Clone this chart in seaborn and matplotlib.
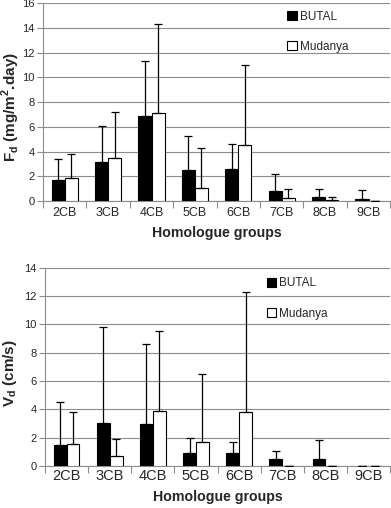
import numpy as np
import pandas as pd
import matplotlib
matplotlib.use("Agg")
import matplotlib.pyplot as plt
import seaborn as sns
from matplotlib.patches import Patch

# --- data ---
groups = ["2CB", "3CB", "4CB", "5CB", "6CB", "7CB", "8CB", "9CB"]
sites = ["BUTAL", "Mudanya"]

fd_butal = [1.7, 3.2, 6.9, 2.5, 2.6, 0.8, 0.35, 0.2]
fd_butal_sd = [1.7, 2.9, 4.4, 2.8, 2.0, 1.4, 0.65, 0.7]
fd_mudanya = [1.9, 3.5, 7.1, 1.1, 4.5, 0.25, 0.08, 0.02]
fd_mudanya_sd = [1.9, 3.7, 7.2, 3.2, 6.5, 0.75, 0.22, 0.03]

vd_butal = [1.5, 3.05, 2.95, 0.9, 0.9, 0.45, 0.45, 0.0]
vd_butal_sd = [3.0, 6.75, 5.65, 1.1, 0.8, 0.6, 1.35, 0.0]
vd_mudanya = [1.55, 0.7, 3.9, 1.7, 3.8, 0.0, 0.0, 0.0]
vd_mudanya_sd = [2.25, 1.2, 5.6, 4.8, 8.5, 0.0, 0.0, 0.0]


def make_df(butal, butal_sd, mud, mud_sd):
    return pd.DataFrame({
        "group": groups * 2,
        "site": [sites[0]] * len(groups) + [sites[1]] * len(groups),
        "value": butal + mud,
        "sd": butal_sd + mud_sd,
    })


sns.set_theme(style="white")
plt.rcParams["font.family"] = ["Liberation Sans", "DejaVu Sans"]

fig = plt.figure(figsize=(3.91, 5.08), dpi=100)
ax_top = fig.add_axes([0.110, 0.604, 0.888, 0.390])
ax_bot = fig.add_axes([0.115, 0.083, 0.883, 0.390])

grid_col = "#8c8c8c"


def draw_panel(ax, df, ymax, ylabel, ylabel_xy, legend_xy, xtick_size, xtick_pad):
    sns.barplot(data=df, x="group", y="value", hue="site", order=groups,
                hue_order=sites, palette=["black", "white"], edgecolor="black",
                linewidth=0.8, width=0.6, errorbar=None, ax=ax, zorder=3,
                legend=False)
    # upper-only error bars
    for cont, site in zip(ax.containers, sites):
        sub = df[df["site"] == site].set_index("group").loc[groups]
        xs = [p.get_x() + p.get_width() / 2 for p in cont.patches]
        ax.errorbar(xs, sub["value"], yerr=[np.zeros(len(xs)), sub["sd"]],
                    fmt="none", ecolor="black", elinewidth=0.9, capsize=3,
                    capthick=0.9, zorder=4)

    ax.set_ylim(0, ymax)
    ax.set_xlim(-0.5, len(groups) - 0.5)
    ax.set_yticks(np.arange(0, ymax + 1, 2))
    ax.yaxis.grid(True, color=grid_col, linewidth=0.8, zorder=0)
    ax.set_axisbelow(True)
    for s in ["top", "right"]:
        ax.spines[s].set_visible(False)
    ax.spines["left"].set_color(grid_col)
    ax.spines["bottom"].set_color(grid_col)
    ax.spines["left"].set_linewidth(0.8)
    ax.spines["bottom"].set_linewidth(0.8)

    ax.tick_params(axis="y", which="major", length=4, width=0.8, color=grid_col,
                   labelsize=8, pad=2, left=True)
    ax.tick_params(axis="x", which="major", length=0, labelsize=xtick_size,
                   pad=xtick_pad)
    ax.set_xticks(np.arange(-0.5, len(groups), 1.0), minor=True)
    ax.tick_params(axis="x", which="minor", length=5, width=0.8, color=grid_col,
                   bottom=True)

    ax.set_xlabel("Homologue groups", fontsize=10.2, fontweight="bold", labelpad=5)
    ax.set_ylabel(ylabel, fontsize=11, fontweight="bold")
    ax.yaxis.set_label_coords(*ylabel_xy)

    handles = [Patch(facecolor="black", edgecolor="black", linewidth=0.8),
               Patch(facecolor="white", edgecolor="black", linewidth=0.8)]
    ax.legend(handles, sites, loc="upper left", bbox_to_anchor=legend_xy,
              frameon=False, fontsize=8.5, handlelength=0.8, handleheight=0.8,
              handletextpad=0.3, labelspacing=1.55, borderaxespad=0)


draw_panel(ax_top, make_df(fd_butal, fd_butal_sd, fd_mudanya, fd_mudanya_sd),
           16, r"F$_\mathregular{d}$ (mg/m$^\mathregular{2}$.day)",
           (-0.06, 0.475), (0.69, 0.985), 9, 4)
draw_panel(ax_bot, make_df(vd_butal, vd_butal_sd, vd_mudanya, vd_mudanya_sd),
           14, r"V$_\mathregular{d}$ (cm/s)",
           (-0.076, 0.47), (0.628, 0.975), 10.5, 2)

fig.savefig("out.png", dpi=100)
